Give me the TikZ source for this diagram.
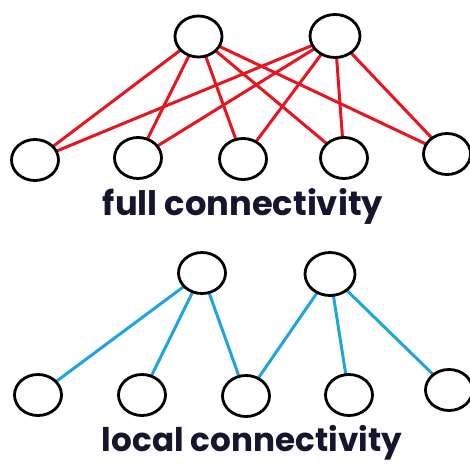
\documentclass[tikz,border=0pt]{standalone}
\usepackage{fontspec}
\setmainfont{Poppins}
\usetikzlibrary{shapes.geometric,backgrounds}
\definecolor{redline}{HTML}{E8141E}
\definecolor{blueline}{HTML}{1EA5E0}
\definecolor{labelcol}{HTML}{15152E}
\begin{document}
\begin{tikzpicture}[x=1pt,y=-1pt,
  neuron/.style={ellipse,draw=black,line width=2.8pt,fill=white,minimum width=47pt,minimum height=41pt,inner sep=0pt},
  bigneuron/.style={neuron,minimum width=50pt,minimum height=43pt},
  fulledge/.style={draw=redline,line width=3pt},
  localedge/.style={draw=blueline,line width=3pt},
  lbl/.style={text=labelcol,font=\bfseries,inner sep=0pt}]
\useasboundingbox (0,0) rectangle (470,465);
% full connectivity
\node[neuron] (ft1) at (198.5,36.5) {};
\node[bigneuron] (ft2) at (335,36) {};
\node[neuron] (fb1) at (35,160) {};
\node[neuron] (fb2) at (138,158) {};
\node[neuron] (fb3) at (243,159) {};
\node[neuron] (fb4) at (344,158) {};
\node[neuron] (fb5) at (447,154) {};
\begin{pgfonlayer}{background}
\foreach \t in {ft1,ft2}{
  \foreach \b in {fb1,fb2,fb3,fb4,fb5}{
    \path[fulledge] (\t.center) -- (\b.center);
  }
}
\end{pgfonlayer}
\node[lbl] (flabel) at (243,206) {\resizebox{280pt}{!}{full connectivity}};
% local connectivity
\node[neuron] (lt1) at (202,273) {};
\node[bigneuron] (lt2) at (330,274) {};
\node[neuron] (lb1) at (38,395) {};
\node[neuron] (lb2) at (142,395) {};
\node[neuron] (lb3) at (246,396) {};
\node[neuron] (lb4) at (349,395) {};
\node[neuron] (lb5) at (449,390) {};
\begin{pgfonlayer}{background}
\path[localedge] (lt1.center) -- (lb1.center);
\path[localedge] (lt1.center) -- (lb2.center);
\path[localedge] (lt1.center) -- (lb3.center);
\path[localedge] (lt2.center) -- (lb3.center);
\path[localedge] (lt2.center) -- (lb4.center);
\path[localedge] (lt2.center) -- (lb5.center);
\end{pgfonlayer}
\node[lbl,anchor=base] (llabel) at (252,451) {\resizebox{300pt}{!}{local connectivity}};
\end{tikzpicture}
\end{document}
